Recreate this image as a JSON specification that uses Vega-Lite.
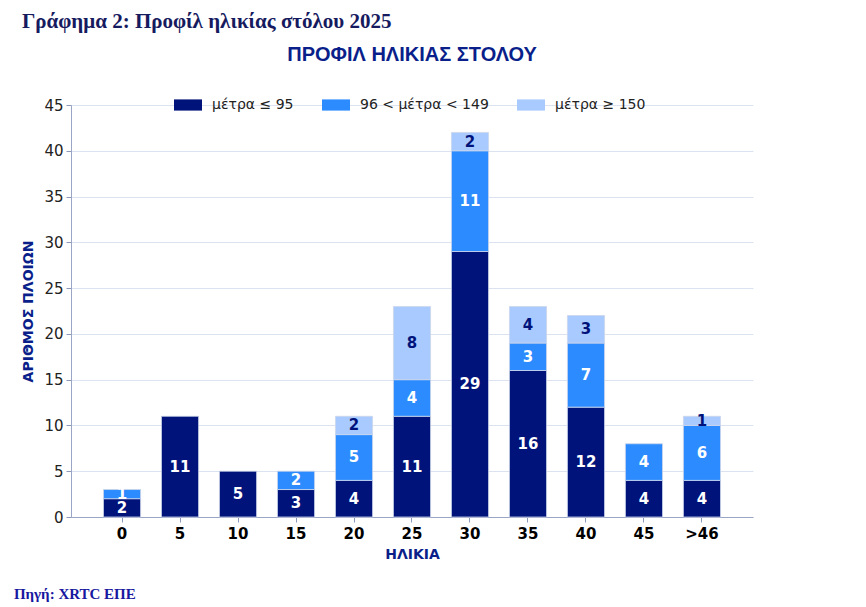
{
  "$schema": "https://vega.github.io/schema/vega-lite/v6.json",
  "padding": {"left": 13, "top": 11, "right": 10, "bottom": 5},
  "background": "white",
  "config": {"view": {"stroke": null}, "concat": {"spacing": 0}},
  "title": {
    "text": "Πηγή: XRTC ΕΠΕ",
    "orient": "bottom",
    "anchor": "start",
    "font": "Liberation Serif",
    "fontSize": 15,
    "fontWeight": "bold",
    "color": "#1818a0",
    "offset": 26,
    "dx": -8
  },
  "vconcat": [
    {
      "title": {
        "text": "Γράφημα 2: Προφίλ ηλικίας στόλου 2025",
        "anchor": "start",
        "font": "Liberation Serif",
        "fontSize": 21,
        "fontWeight": "bold",
        "color": "#161a5e",
        "offset": 13
      },
      "vconcat": [
        {
          "width": 682,
          "height": 412,
          "title": {
            "text": "ΠΡΟΦΙΛ ΗΛΙΚΙΑΣ ΣΤΟΛΟΥ",
            "anchor": "middle",
            "frame": "group",
            "font": "Liberation Sans",
            "fontSize": 20,
            "fontWeight": "bold",
            "color": "#0a1f8a",
            "offset": 33
          },
          "data": {
            "values": [
              {"age": "0", "cat": "μέτρα ≤ 95", "n": 2},
              {"age": "0", "cat": "96 < μέτρα < 149", "n": 1},
              {"age": "5", "cat": "μέτρα ≤ 95", "n": 11},
              {"age": "10", "cat": "μέτρα ≤ 95", "n": 5},
              {"age": "15", "cat": "μέτρα ≤ 95", "n": 3},
              {"age": "15", "cat": "96 < μέτρα < 149", "n": 2},
              {"age": "20", "cat": "μέτρα ≤ 95", "n": 4},
              {"age": "20", "cat": "96 < μέτρα < 149", "n": 5},
              {"age": "20", "cat": "μέτρα ≥ 150", "n": 2},
              {"age": "25", "cat": "μέτρα ≤ 95", "n": 11},
              {"age": "25", "cat": "96 < μέτρα < 149", "n": 4},
              {"age": "25", "cat": "μέτρα ≥ 150", "n": 8},
              {"age": "30", "cat": "μέτρα ≤ 95", "n": 29},
              {"age": "30", "cat": "96 < μέτρα < 149", "n": 11},
              {"age": "30", "cat": "μέτρα ≥ 150", "n": 2},
              {"age": "35", "cat": "μέτρα ≤ 95", "n": 16},
              {"age": "35", "cat": "96 < μέτρα < 149", "n": 3},
              {"age": "35", "cat": "μέτρα ≥ 150", "n": 4},
              {"age": "40", "cat": "μέτρα ≤ 95", "n": 12},
              {"age": "40", "cat": "96 < μέτρα < 149", "n": 7},
              {"age": "40", "cat": "μέτρα ≥ 150", "n": 3},
              {"age": "45", "cat": "μέτρα ≤ 95", "n": 4},
              {"age": "45", "cat": "96 < μέτρα < 149", "n": 4},
              {"age": ">46", "cat": "μέτρα ≤ 95", "n": 4},
              {"age": ">46", "cat": "96 < μέτρα < 149", "n": 6},
              {"age": ">46", "cat": "μέτρα ≥ 150", "n": 1}
            ]
          },
          "transform": [
            {"calculate": "indexof(['μέτρα ≤ 95', '96 < μέτρα < 149', 'μέτρα ≥ 150'], datum.cat)", "as": "k"},
            {"stack": "n", "groupby": ["age"], "sort": [{"field": "k", "order": "ascending"}], "as": ["y0", "y1"]},
            {"calculate": "(datum.y0 + datum.y1) / 2", "as": "mid"}
          ],
          "encoding": {
            "x": {
              "field": "age",
              "type": "nominal",
              "sort": ["0", "5", "10", "15", "20", "25", "30", "35", "40", "45", ">46"],
              "scale": {"paddingInner": 0.36, "paddingOuter": 0.56},
              "axis": {
                "title": "ΗΛΙΚΙΑ",
                "labelAngle": 0,
                "labelFont": "DejaVu Sans",
                "labelFontSize": 15,
                "labelFontWeight": "bold",
                "labelColor": "black",
                "labelPadding": 4,
                "tickColor": "#8d99b8",
                "tickSize": 5,
                "domainColor": "#9ba6c6",
                "titleFont": "DejaVu Sans",
                "titleFontSize": 14,
                "titleFontWeight": "bold",
                "titleColor": "#0a1f8a",
                "titlePadding": 6
              }
            }
          },
          "layer": [
            {
              "mark": {"type": "bar", "stroke": "#cdd6ea", "strokeWidth": 0.8},
              "encoding": {
                "y": {
                  "field": "y1",
                  "type": "quantitative",
                  "scale": {"domain": [0, 45], "nice": false},
                  "axis": {
                    "title": "ΑΡΙΘΜΟΣ ΠΛΟΙΩΝ",
                    "values": [0, 5, 10, 15, 20, 25, 30, 35, 40, 45],
                    "grid": true,
                    "gridColor": "#dbe3f0",
                    "labelFont": "DejaVu Sans",
                    "labelFontSize": 15,
                    "labelColor": "#222222",
                    "labelPadding": 3,
                    "tickColor": "#8d99b8",
                    "tickSize": 5,
                    "domainColor": "#9ba6c6",
                    "titleFont": "DejaVu Sans",
                    "titleFontSize": 14,
                    "titleFontWeight": "bold",
                    "titleColor": "#0a1f8a",
                    "titlePadding": 8
                  }
                },
                "y2": {"field": "y0"},
                "color": {
                  "field": "cat",
                  "type": "nominal",
                  "sort": ["μέτρα ≤ 95", "96 < μέτρα < 149", "μέτρα ≥ 150"],
                  "scale": {
                    "domain": ["μέτρα ≤ 95", "96 < μέτρα < 149", "μέτρα ≥ 150"],
                    "range": ["#00137a", "#2c8cff", "#a8caff"]
                  },
                  "legend": {
                    "title": null,
                    "orient": "none",
                    "direction": "horizontal",
                    "legendX": 103,
                    "legendY": -14,
                    "symbolType": "M-1,-0.4H1V0.4H-1Z",
                    "symbolSize": 784,
                    "symbolStrokeWidth": 0,
                    "labelFont": "DejaVu Sans",
                    "labelFontSize": 14,
                    "labelColor": "#222222",
                    "labelOffset": 10,
                    "columnPadding": 28
                  }
                }
              }
            },
            {
              "mark": {"type": "text", "font": "DejaVu Sans", "fontSize": 15, "fontWeight": "bold", "baseline": "middle"},
              "encoding": {
                "y": {"field": "mid", "type": "quantitative"},
                "text": {"field": "n", "type": "quantitative"},
                "color": {
                  "condition": {"test": "datum.cat === 'μέτρα ≥ 150'", "value": "#00137a"},
                  "value": "white"
                }
              }
            }
          ]
        }
      ]
    }
  ]
}
